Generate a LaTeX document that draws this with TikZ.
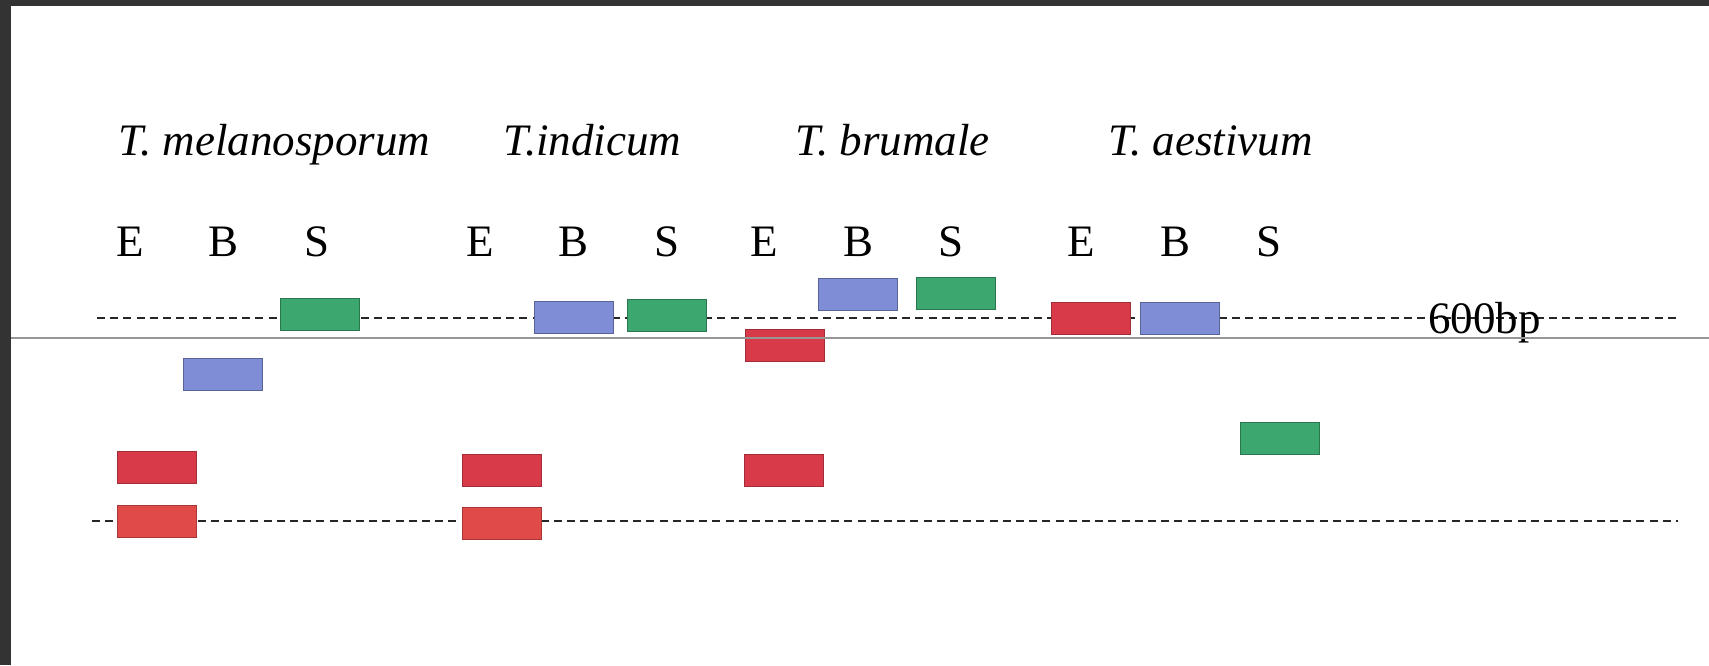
\documentclass[tikz,border=0pt]{standalone}
\usepackage{fontspec}
\setmainfont{Liberation Serif}
\usetikzlibrary{positioning}

\definecolor{frameGray}{RGB}{51,51,51}
\definecolor{scanGray}{RGB}{150,150,150}
\definecolor{bandRed}{RGB}{216,58,74}
\definecolor{bandRedB}{RGB}{224,74,72}
\definecolor{bandBlue}{RGB}{126,141,214}
\definecolor{bandGreen}{RGB}{60,168,112}

\begin{document}
\begin{tikzpicture}[x=0.5pt, y=-0.5pt, font=\fontsize{22.5}{27}\selectfont, line cap=butt]
    \tikzset{
        band/.style={rectangle, minimum width=39.5pt, minimum height=16pt, inner sep=0pt, line width=0.5pt},
        bandE/.style={band, fill=bandRed, draw=bandRed!75!black},
        bandEb/.style={band, fill=bandRedB, draw=bandRedB!75!black},
        bandB/.style={band, fill=bandBlue, draw=bandBlue!70!black},
        bandS/.style={band, fill=bandGreen, draw=bandGreen!70!black},
        ladder/.style={draw=black!85, line width=1.3pt, dash pattern=on 4pt off 2.6pt},
        species/.style={anchor=base west, inner sep=0pt, font=\fontsize{22.5}{27}\selectfont\itshape},
        lane/.style={anchor=base, inner sep=0pt},
        sizeLabel/.style={anchor=base west, inner sep=0pt}
    }

    % Page area and frame
    \useasboundingbox (0,0) rectangle (1709,665);
    \fill[white] (0,0) rectangle (1709,665);
    \fill[frameGray] (0,0) rectangle (1709,6);
    \fill[frameGray] (0,0) rectangle (11,665);

    % Marker lines
    \coordinate (M1a) at (97,318);
    \coordinate (M1b) at (1678,318);
    \coordinate (M2a) at (92,521);
    \coordinate (M2b) at (1678,521);
    \draw[ladder] (M1a) -- (M1b);
    \draw[ladder] (M2a) -- (M2b);
    \node[sizeLabel] (bp600) at (1428,333) {600bp};

    % Species names
    \node[species] (tMel) at (118,155) {T. melanosporum};
    \node[species] (tInd) at (503,155) {T.indicum};
    \node[species] (tBru) at (795,155) {T. brumale};
    \node[species] (tAes) at (1108,155) {T. aestivum};

    % Lane letters
    \node[lane] (lmE) at (130,256) {E};
    \node[lane] (lmB) at (224,256) {B};
    \node[lane] (lmS) at (317,256) {S};
    \node[lane] (liE) at (480,256) {E};
    \node[lane] (liB) at (574,256) {B};
    \node[lane] (liS) at (667,256) {S};
    \node[lane] (lbE) at (764,256) {E};
    \node[lane] (lbB) at (858,256) {B};
    \node[lane] (lbS) at (951,256) {S};
    \node[lane] (laE) at (1081,256) {E};
    \node[lane] (laB) at (1175,256) {B};
    \node[lane] (laS) at (1269,256) {S};

    % T. melanosporum bands
    \node[bandS] (mS) at (319.5,314) {};
    \node[bandB] (mB) at (222.5,374.5) {};
    \node[bandE] (mE1) at (156.5,467) {};
    \node[bandEb] (mE2) at (156.5,521) {};

    % T. indicum bands
    \node[bandB] (iB) at (573.5,317) {};
    \node[bandS] (iS) at (666.5,315.5) {};
    \node[bandE] (iE1) at (501.5,470) {};
    \node[bandEb] (iE2) at (502,523.5) {};

    % T. brumale bands
    \node[bandB] (bB) at (857.5,294) {};
    \node[bandS] (bS) at (955.5,293.5) {};
    \node[bandE] (bE1) at (785,345.5) {};
    \node[bandE] (bE2) at (784,470.5) {};

    % T. aestivum bands
    \node[bandE] (aE) at (1091,318) {};
    \node[bandB] (aB) at (1180,318) {};
    \node[bandS] (aS) at (1279.5,438) {};

    % Scan line
    \draw[scanGray, line width=0.6pt] (11,338) -- (1709,338);
\end{tikzpicture}
\end{document}
